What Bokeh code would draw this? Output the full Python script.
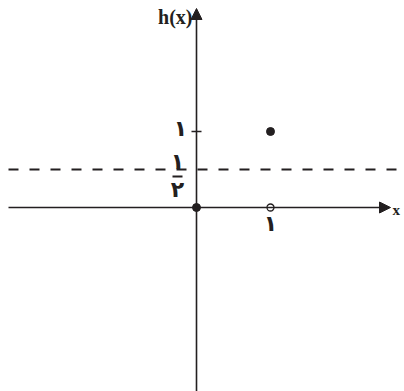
from bokeh.plotting import figure
from bokeh.models import Arrow, NormalHead, Range1d
from bokeh.core.properties import value
from bokeh.embed import file_html
from bokeh.resources import INLINE

# data
filled_x = [0, 1]
filled_y = [0, 1]
open_x = [1]
open_y = [0]
asymptote_y = 0.5
tick_y = [1]
tick_label_y = ["۱"]
tick_label_x = ["۱"]
half_num = "۱"
half_den = "۲"
x_name = "x"
y_name = "h(x)"

W, H = 404, 391
ux, uy = 74.0, 76.0
ox, oy = 196.0, 207.0
x0 = -ox / ux
x1 = x0 + W / ux
y1 = oy / uy
y0 = y1 - H / uy

p = figure(width=W, height=H, output_backend="svg", toolbar_location=None,
           x_range=Range1d(x0, x1), y_range=Range1d(y0, y1),
           min_border=0, outline_line_color=None)
p.axis.visible = False
p.grid.visible = False
p.background_fill_color = "white"
p.border_fill_color = "white"

ink = "#231f20"
px = 1.0 / ux
py = 1.0 / uy

# axes with arrows
p.add_layout(Arrow(end=NormalHead(size=11, fill_color=ink, line_color=ink, line_width=1),
                   x_start=x0 + 8 * px, y_start=0, x_end=x0 + 390 * px, y_end=0,
                   line_color=ink, line_width=1.6))
p.add_layout(Arrow(end=NormalHead(size=11, fill_color=ink, line_color=ink, line_width=1),
                   x_start=0, y_start=y0, x_end=0, y_end=y1 - 8 * py,
                   line_color=ink, line_width=1.6))

# dashed asymptote
p.line([x0 + 8 * px, x0 + 396 * px], [asymptote_y, asymptote_y], line_color=ink,
       line_width=2, line_dash="10 11")

# tick on y axis
for t in tick_y:
    p.segment(x0=[-5 * px], y0=[t], x1=[5 * px], y1=[t], line_color=ink, line_width=1.3)

font = value("DejaVu Sans")
fs = "22px"
p.text(x=[-16 * px], y=[tick_y[0] + 3 * py], text=tick_label_y, text_font=font, text_font_size=fs,
       text_font_style="bold", text_align="center", text_baseline="middle", text_color=ink)
p.text(x=[1], y=[-16 * py], text=tick_label_x, text_font=font, text_font_size=fs,
       text_font_style="bold", text_align="center", text_baseline="middle", text_color=ink)

# fraction 1/2
p.text(x=[-19 * px], y=[asymptote_y + 8 * py], text=[half_num], text_font=font, text_font_size=fs,
       text_font_style="bold", text_align="center", text_baseline="middle", text_color=ink)
p.segment(x0=[-24 * px], y0=[asymptote_y - 7 * py], x1=[-14 * px], y1=[asymptote_y - 7 * py],
          line_color=ink, line_width=2)
p.text(x=[-19 * px], y=[asymptote_y - 20 * py], text=[half_den], text_font=font, text_font_size=fs,
       text_font_style="bold", text_align="center", text_baseline="middle", text_color=ink)

# axis names
p.text(x=[-4 * px], y=[y1 - 16 * py], text=[y_name], text_font=value("Liberation Serif"),
       text_font_style="bold", text_font_size="20px", text_align="right",
       text_baseline="middle", text_color=ink)
p.text(x=[x0 + 392 * px], y=[-2 * py], text=[x_name], text_font=value("Liberation Serif"),
       text_font_style="bold", text_font_size="15px", text_align="left",
       text_baseline="middle", text_color=ink)

# points
p.scatter(filled_x, filled_y, size=8, fill_color=ink, line_color=ink)
p.scatter(open_x, open_y, size=7, fill_color="white", line_color=ink, line_width=1.3)

open("out.html", "w").write(file_html(p, INLINE))
